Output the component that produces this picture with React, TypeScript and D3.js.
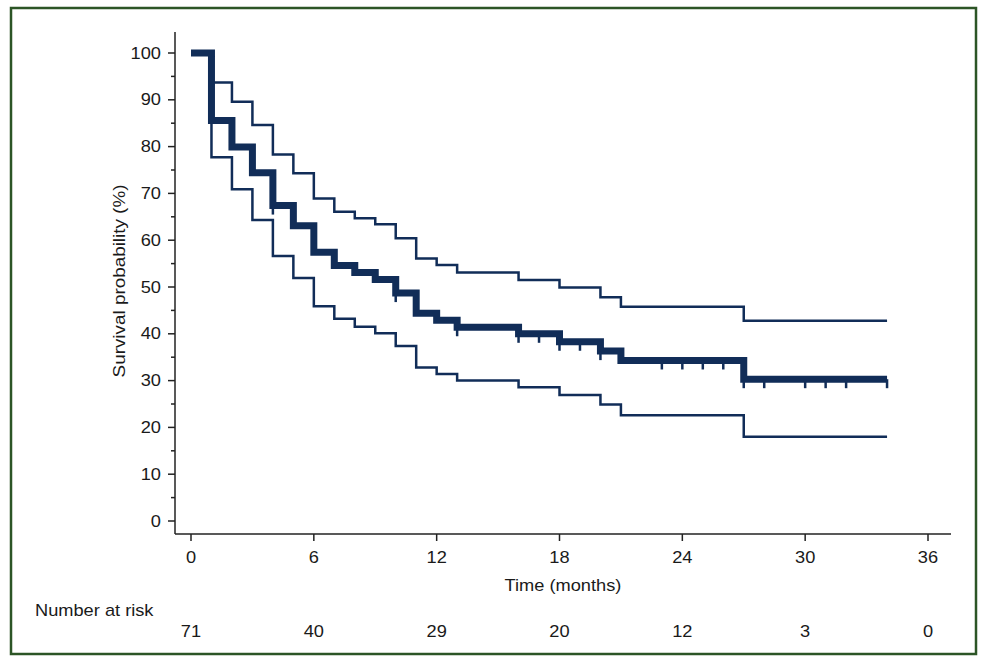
// @ts-nocheck
import React, { useEffect, useRef } from 'react';
import * as d3 from 'd3';

// step times (months) and the Kaplan-Meier estimate with its confidence band
const stepTimes = [0, 1, 2, 3, 4, 5, 6, 7, 8, 9, 10, 11, 12, 13, 16, 18, 20, 21, 27, 34];
const survival = [100, 85.6, 79.9, 74.4, 67.4, 63.1, 57.4, 54.6, 53.1, 51.6, 48.7, 44.4, 42.9, 41.4, 40.0, 38.3, 36.3, 34.3, 30.3, 30.3];
const upperCI = [100, 93.7, 89.6, 84.6, 78.3, 74.3, 68.9, 66.1, 64.7, 63.4, 60.4, 56.1, 54.7, 53.1, 51.5, 49.9, 47.8, 45.8, 42.8, 42.8];
const lowerCI = [100, 77.7, 70.9, 64.3, 56.6, 51.9, 45.9, 43.2, 41.5, 40.1, 37.4, 32.8, 31.4, 30.0, 28.6, 26.9, 24.9, 22.6, 18.0, 18.0];

// censored observations
const censorTimes = [4, 10, 13, 16, 17, 18, 19, 20, 23, 24, 25, 26, 27, 28, 30, 31, 32, 34];

// number at risk table
const xTicks = [0, 6, 12, 18, 24, 30, 36];
const atRisk = [71, 40, 29, 20, 12, 3, 0];

const yMajor = [0, 10, 20, 30, 40, 50, 60, 70, 80, 90, 100];
const yMinor = [5, 15, 25, 35, 45, 55, 65, 75, 85, 95];

const navy = '#112d58';
const font = 'Liberation Sans, Arial, sans-serif';
const stretch = 1.14; // the original type is a bit wider than Arial

export default function App() {
    const ref = useRef(null);

    useEffect(() => {
        const svg = d3.select(ref.current);
        svg.selectAll('*').remove();

        const x = d3.scaleLinear().domain([0, 36]).range([191, 928]);
        const y = d3.scaleLinear().domain([0, 100]).range([521, 53]);

        const label = (sel, tx, ty, anchor) => sel
            .attr('transform', (d, i) => `translate(${tx(d, i)},${ty(d, i)}) scale(${stretch},1)`)
            .attr('text-anchor', anchor)
            .attr('font-family', font).attr('font-size', 16)
            .attr('fill', '#1a1a1a');

        // frame
        svg.append('rect')
            .attr('x', 11).attr('y', 8)
            .attr('width', 965).attr('height', 646)
            .attr('fill', 'white')
            .attr('stroke', '#2c5526')
            .attr('stroke-width', 2.5);

        // axes
        svg.append('line')
            .attr('x1', 175).attr('x2', 175).attr('y1', 32).attr('y2', 534)
            .attr('stroke', '#222').attr('stroke-width', 1.5);
        svg.append('line')
            .attr('x1', 175).attr('x2', 951).attr('y1', 534).attr('y2', 534)
            .attr('stroke', '#222').attr('stroke-width', 1.5);

        const yAxis = svg.append('g');
        yAxis.selectAll('.major').data(yMajor).join('line')
            .attr('x1', 168).attr('x2', 175)
            .attr('y1', d => y(d)).attr('y2', d => y(d))
            .attr('stroke', '#222').attr('stroke-width', 1.5);
        yAxis.selectAll('.minor').data(yMinor).join('line')
            .attr('class', 'minor')
            .attr('x1', 171).attr('x2', 175)
            .attr('y1', d => y(d)).attr('y2', d => y(d))
            .attr('stroke', '#222').attr('stroke-width', 1.5);
        label(yAxis.selectAll('text').data(yMajor).join('text'), () => 161, d => y(d) + 5.5, 'end')
            .text(d => d);

        const xAxis = svg.append('g');
        xAxis.selectAll('line').data(xTicks).join('line')
            .attr('x1', d => x(d)).attr('x2', d => x(d))
            .attr('y1', 534).attr('y2', 541)
            .attr('stroke', '#222').attr('stroke-width', 1.5);
        label(xAxis.selectAll('text').data(xTicks).join('text'), d => x(d), () => 563, 'middle')
            .text(d => d);

        label(svg.append('text'), () => 563, () => 591, 'middle')
            .text('Time (months)');

        svg.append('text')
            .attr('transform', `translate(125, 281) rotate(-90) scale(${stretch + 0.04},1)`)
            .attr('text-anchor', 'middle')
            .attr('font-family', font).attr('font-size', 16)
            .attr('fill', '#1a1a1a')
            .text('Survival probability (%)');

        // number at risk
        label(svg.append('text'), () => 35, () => 616, 'start')
            .text('Number at risk');
        label(svg.append('g').selectAll('text').data(atRisk).join('text'),
            (d, i) => x(xTicks[i]), () => 637, 'middle')
            .text(d => d);

        const line = (vals) => d3.line()
            .curve(d3.curveStepAfter)
            .x((d, i) => x(stepTimes[i]))
            .y(d => y(d))(vals);

        // confidence band
        [upperCI, lowerCI].forEach(vals => {
            svg.append('path')
                .attr('d', line(vals))
                .attr('fill', 'none')
                .attr('stroke', navy)
                .attr('stroke-width', 2.5);
        });

        // survival estimate
        svg.append('path')
            .attr('d', line(survival))
            .attr('fill', 'none')
            .attr('stroke', navy)
            .attr('stroke-width', 7)
            .attr('stroke-linejoin', 'miter');

        // censor marks
        const survAt = (t) => {
            const i = d3.bisectRight(stepTimes, t) - 1;
            return survival[Math.max(0, i)];
        };
        svg.append('g').selectAll('line').data(censorTimes).join('line')
            .attr('x1', d => x(d)).attr('x2', d => x(d))
            .attr('y1', d => y(survAt(d)))
            .attr('y2', d => y(survAt(d)) + 9)
            .attr('stroke', navy)
            .attr('stroke-width', 2.5);
    }, []);

    return (
        <svg ref={ref} width={988} height={664}
            style={{ position: 'absolute', left: 0, top: 0, background: 'white' }} />
    );
}
